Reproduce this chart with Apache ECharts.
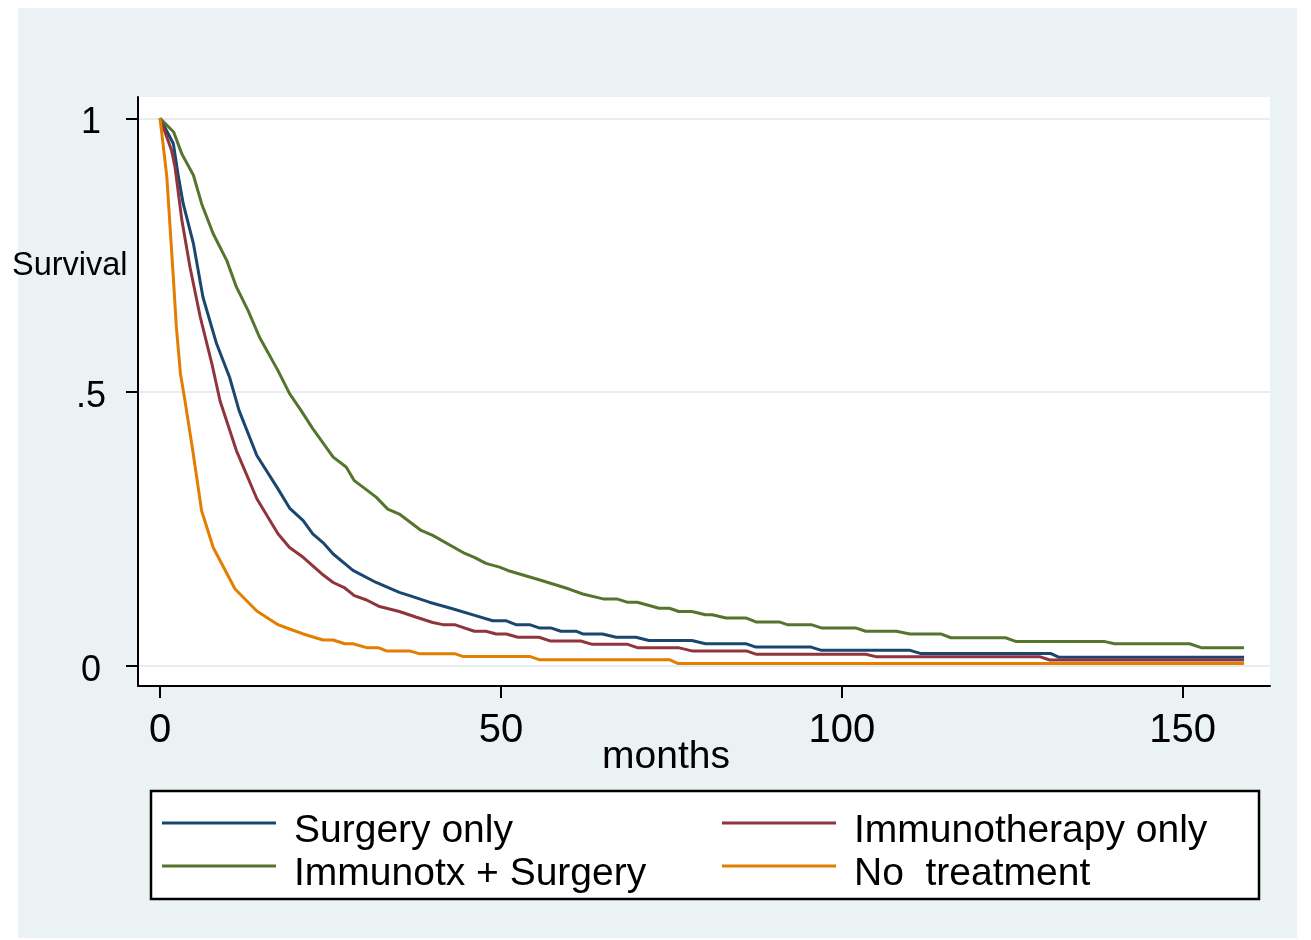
<!DOCTYPE html>
<html>
<head>
<meta charset="utf-8">
<script src="https://cdn.jsdelivr.net/npm/echarts@6/dist/echarts.min.js"></script>
<style>
    body { margin: 0; background: #fff; }
    #bg { position: absolute; left: 18px; top: 8px; width: 1279px; height: 930px; background: #eaf2f3; }
    #chart { position: absolute; left: 0; top: 0; width: 1311px; height: 940px; }
</style>
</head>
<body>
<div id="bg"></div>
<div id="chart"></div>
<script>
    // survival curves (months, survival)
    var surgeryMonths = [0, 1.95, 2.7, 3.4, 4.9, 6.3, 8.3, 10.2, 11.6, 14.2, 17.3, 19, 21, 22.4, 23.9, 25.4, 28.3, 31.7, 35.1, 36.6, 39.5, 42.9, 46.4, 48.8, 50.8, 52.2, 54.2, 55.6, 57.3, 58.8, 61, 62, 64.9, 66.9, 69.8, 71.7, 78, 80, 86, 87.4, 95.5, 97, 110, 111.5, 130.6, 131.8, 159];
    var surgerySurv = [1, 0.954, 0.893, 0.844, 0.771, 0.673, 0.588, 0.527, 0.466, 0.384, 0.323, 0.288, 0.265, 0.241, 0.225, 0.204, 0.174, 0.152, 0.134, 0.128, 0.116, 0.104, 0.091, 0.082, 0.082, 0.075, 0.075, 0.069, 0.069, 0.063, 0.063, 0.058, 0.058, 0.052, 0.052, 0.046, 0.046, 0.040, 0.040, 0.034, 0.034, 0.028, 0.028, 0.0225, 0.0225, 0.0155, 0.0155];

    var immunoMonths = [0, 1.7, 2.2, 3.2, 4.4, 5.9, 7.6, 8.8, 11.2, 14.2, 17.3, 19, 21, 23.7, 25.4, 27.1, 28.5, 30.3, 32.2, 35.1, 37.5, 40, 41.5, 43.2, 46.1, 47.8, 49.3, 50.8, 52.5, 55.6, 57.3, 61.7, 63.4, 68.6, 70, 76, 78, 86, 87.4, 103.5, 105, 129, 130.5, 159];
    var immunoSurv = [1, 0.941, 0.911, 0.814, 0.728, 0.637, 0.552, 0.484, 0.393, 0.305, 0.241, 0.216, 0.198, 0.168, 0.152, 0.142, 0.128, 0.120, 0.108, 0.099, 0.089, 0.079, 0.075, 0.075, 0.063, 0.063, 0.058, 0.058, 0.052, 0.052, 0.045, 0.045, 0.039, 0.039, 0.033, 0.033, 0.027, 0.027, 0.021, 0.021, 0.0165, 0.0165, 0.0104, 0.0104];

    var comboMonths = [0, 2, 3.2, 4.9, 6.1, 7.8, 9.8, 11.2, 12.9, 14.6, 17.3, 19, 20.7, 22.4, 25.4, 27.3, 28.5, 31.7, 33.4, 35.1, 38.3, 40, 44.7, 46.1, 47.8, 49.8, 51, 55.6, 60, 62, 65, 67, 68.5, 70, 73.2, 74.7, 76.1, 78, 80, 81, 83, 86, 87.4, 90.8, 92, 95.5, 97, 102, 103.5, 108, 110, 114.5, 116, 124, 125.6, 138.6, 140, 151, 152.7, 159];
    var comboSurv = [1, 0.975, 0.935, 0.896, 0.844, 0.789, 0.740, 0.692, 0.649, 0.600, 0.539, 0.497, 0.466, 0.433, 0.381, 0.363, 0.338, 0.308, 0.286, 0.277, 0.247, 0.238, 0.205, 0.198, 0.187, 0.180, 0.174, 0.157, 0.140, 0.131, 0.122, 0.122, 0.116, 0.116, 0.105, 0.105, 0.099, 0.099, 0.093, 0.093, 0.087, 0.087, 0.080, 0.080, 0.075, 0.075, 0.069, 0.069, 0.063, 0.063, 0.058, 0.058, 0.051, 0.051, 0.044, 0.044, 0.040, 0.040, 0.033, 0.033];

    var noTreatMonths = [0, 1, 1.95, 2.4, 3.0, 3.66, 4.8, 6.1, 7.8, 11, 14.2, 17.3, 19, 21, 23.9, 25.4, 27.1, 28.3, 30.3, 32, 33.2, 36.6, 38, 43.2, 44.4, 54.2, 55.6, 74.7, 76, 159];
    var noTreatSurv = [1, 0.893, 0.710, 0.618, 0.533, 0.484, 0.393, 0.283, 0.216, 0.140, 0.100, 0.075, 0.067, 0.058, 0.047, 0.047, 0.040, 0.040, 0.033, 0.033, 0.027, 0.027, 0.022, 0.022, 0.017, 0.017, 0.011, 0.011, 0.004, 0.004];

    var groupNames = ['Surgery only', 'Immunotherapy only', 'Immunotx + Surgery', 'No  treatment'];
    var groupColors = ['#1a476f', '#90353b', '#55752f', '#e37e00'];

    var xTicks = [0, 50, 100, 150];
    var yTicks = [0, 0.5, 1];
    var yTickLabels = {'0': '0', '0.5': '.5', '1': '1'};

    var font = '"Liberation Sans", Arial, sans-serif';

    // legend key: line sits near the top of a 20px box so the label hangs below it
    var keyIcon = 'path://M0,0H114V3H0Z M0,19.9H0.1V20H0Z';

    function pairs(xs, ys) {
        return xs.map(function (x, i) {
            return [x, ys[i]];
        });
    }

    var chart = echarts.init(document.getElementById('chart'));

    function makeSeries(idx, months, surv) {
        return {
            name: groupNames[idx],
            type: 'line',
            data: pairs(months, surv),
            showSymbol: false,
            symbol: 'none',
            color: groupColors[idx],
            lineStyle: {color: groupColors[idx], width: 3},
            z: 2
        };
    }

    function makeLegend(name, left, top) {
        return {
            data: [name],
            left: left,
            top: top,
            padding: 0,
            icon: keyIcon,
            itemWidth: 114,
            itemHeight: 20,
            selectedMode: false,
            textStyle: {fontSize: 39, color: '#000', fontFamily: font, padding: [0, 0, 0, 13]}
        };
    }

    var series = [
        makeSeries(0, surgeryMonths, surgerySurv),
        makeSeries(1, immunoMonths, immunoSurv),
        makeSeries(2, comboMonths, comboSurv),
        makeSeries(3, noTreatMonths, noTreatSurv)
    ];
    series[0].markLine = {
        z: 1,
        silent: true,
        symbol: ['none', 'none'],
        label: {show: false},
        animation: false,
        lineStyle: {color: '#e5eef0', width: 2, type: 'solid'},
        data: yTicks.map(function (v) { return {yAxis: v}; })
    };

    var option = {
        animation: false,
        grid: {
            left: 138, top: 97, right: 41, bottom: 254,
            show: true, backgroundColor: '#fff', borderWidth: 0
        },
        xAxis: {
            type: 'value',
            min: -3.23,
            max: 162.8,
            z: 3,
            axisLine: {show: true, onZero: false, lineStyle: {color: '#000', width: 2}},
            axisTick: {show: true, length: 12, customValues: xTicks, lineStyle: {color: '#000', width: 2}},
            axisLabel: {customValues: xTicks, fontSize: 40, color: '#000', fontFamily: font, margin: 25},
            splitLine: {show: false}
        },
        yAxis: {
            type: 'value',
            min: -0.0371,
            max: 1.0389,
            z: 3,
            axisLine: {show: true, onZero: false, lineStyle: {color: '#000', width: 2}},
            axisTick: {show: true, length: 12, customValues: yTicks, lineStyle: {color: '#000', width: 2}},
            axisLabel: {
                customValues: yTicks,
                fontSize: 36,
                color: '#000',
                fontFamily: font,
                margin: 47,
                align: 'center',
                verticalAlign: 'top',
                lineHeight: 10,
                formatter: function (v) {
                    return yTickLabels[String(v)];
                }
            },
            splitLine: {show: false}
        },
        legend: [
            makeLegend(groupNames[0], 162, 812),
            makeLegend(groupNames[1], 722, 812),
            makeLegend(groupNames[2], 162, 855),
            makeLegend(groupNames[3], 722, 855)
        ],
        graphic: [
            {
                type: 'rect',
                shape: {x: 151, y: 791, width: 1108, height: 108},
                style: {fill: '#fff', stroke: '#000', lineWidth: 2.5},
                z: 0
            },
            {
                type: 'text',
                x: 12, y: 266,
                style: {text: 'Survival', fontSize: 32.5, fill: '#000', fontFamily: font, verticalAlign: 'middle'}
            },
            {
                type: 'text',
                x: 666, y: 757,
                style: {text: 'months', fontSize: 39, fill: '#000', fontFamily: font, align: 'center', verticalAlign: 'middle'}
            }
        ],
        series: series
    };

    chart.setOption(option);
</script>
</body>
</html>
